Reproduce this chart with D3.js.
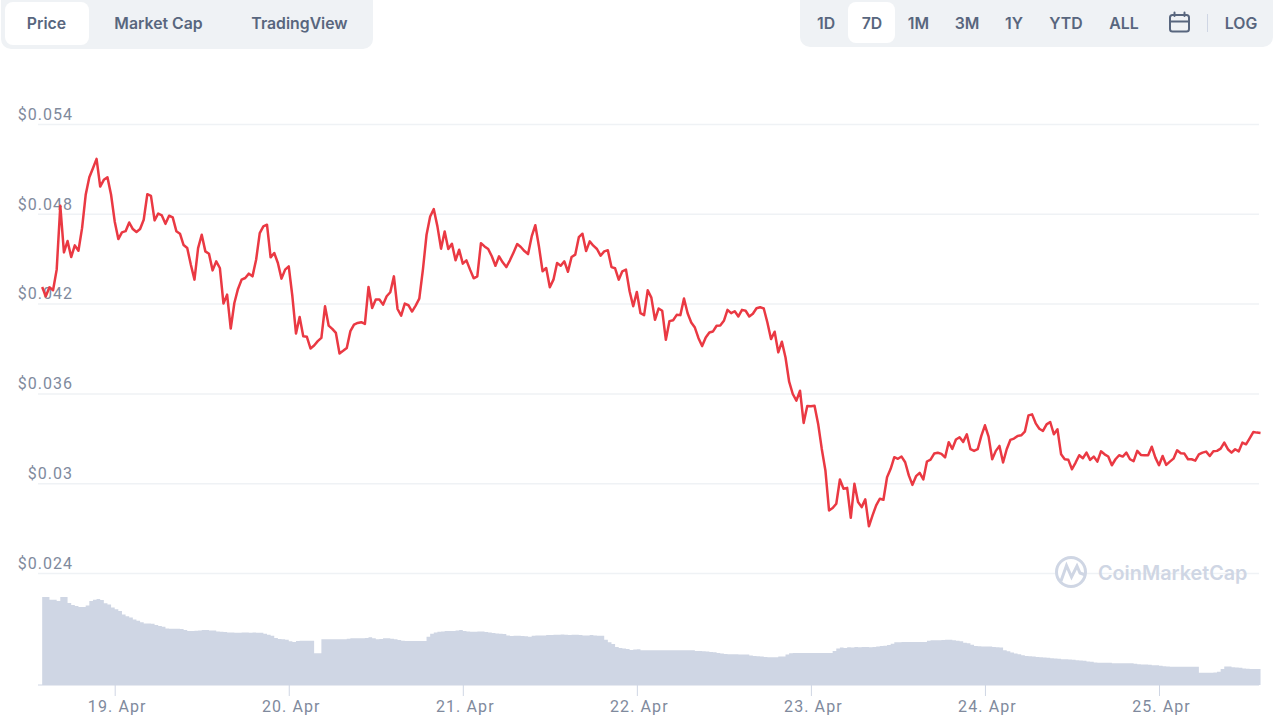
<!DOCTYPE html>
<html><head><meta charset="utf-8">
<script src="https://cdn.jsdelivr.net/npm/d3@7/dist/d3.min.js"></script>
<style>html,body{margin:0;padding:0;background:#fff;overflow:hidden}svg{display:block}</style>
</head><body><svg id="c" width="1280" height="720"></svg>
<script>
// price in 1e-5 USD, one value every 30 minutes from 18 Apr 14:00 UTC
const prices = [4311,4249,4309,4289,4427,4853,4542,4618,4511,4589,4553,4704,4927,5044,5104,5167,4982,5027,5044,4927,4749,4631,4676,4684,4742,4698,4678,4698,4760,4931,4920,4756,4802,4789,4733,4787,4776,4684,4667,4591,4571,4460,4360,4571,4660,4549,4533,4422,4482,4438,4200,4260,4033,4204,4298,4360,4371,4400,4382,4493,4671,4716,4727,4509,4538,4471,4367,4427,4449,4249,4000,4111,3982,3978,3900,3920,3949,
3971,4182,4053,4031,4004,3867,3885,3904,4016,4060,4071,4076,4064,4311,4171,4227,4227,4193,4249,4276,4382,4164,4120,4200,4189,4147,4187,4233,4427,4660,4782,4831,4716,4567,4682,4565,4600,4489,4560,4467,4489,4427,4369,4382,4604,4582,4565,4516,4453,4516,4476,4444,4489,4542,4598,4578,4551,4531,4649,4724,4582,4416,4438,4309,4360,4471,4453,4482,4413,4511,4527,4644,4667,4551,4616,4587,4565,4520,4549,4556,4444,4436,4360,4416,4427,4282,4182,4278,
4136,4123,4289,4240,4092,4167,4152,3958,4083,4089,4125,4123,4234,4136,4074,4040,3969,3916,3974,4007,4014,4052,4054,4085,4158,4136,4149,4114,4158,4152,4114,4132,4169,4176,4167,4074,3963,4012,3874,3945,3840,3678,3596,3552,3618,3403,3516,3514,3518,3396,3229,3085,2818,2834,2863,3025,2963,2969,2769,2996,2874,2840,2892,2712,2785,2852,2896,2889,3040,3096,3174,3163,3178,3140,3052,2989,3047,3069,3025,3145,3158,3198,3203,3196,3172,3274,3229,3292,3307,
3276,3327,3227,3216,3227,3316,3387,3311,3160,3216,3249,3138,3227,3289,3298,3316,3320,3344,3453,3460,3400,3364,3349,3393,3409,3327,3360,3193,3160,3156,3093,3138,3187,3167,3204,3156,3178,3144,3213,3193,3178,3120,3160,3187,3178,3204,3160,3147,3216,3189,3187,3187,3244,3171,3120,3182,3122,3144,3164,3220,3200,3198,3160,3160,3151,3193,3204,3211,3182,3213,3216,3231,3271,3227,3204,3227,3213,3271,3260,3300,3342,3338,3335];
// volume, relative units, same half-hour steps
const volumes = [266,266,258,258,254,266,266,248,242,239,236,236,240,254,258,260,257,247,243,234,229,224,213,208,204,198,194,190,186,186,185,181,178,176,171,170,170,170,169,166,163,163,164,165,166,166,165,165,162,161,160,159,159,158,158,159,159,158,159,158,158,155,152,149,142,139,138,137,132,130,133,134,134,134,134,96,96,138,138,138,138,138,138,138,140,141,141,141,141,142,144,141,138,139,141,141,140,138,136,134,133,133,133,133,133,133,146,155,159,161,162,163,163,163,165,166,163,162,161,161,162,162,160,159,157,156,155,154,150,148,149,149,148,147,146,149,150,150,150,151,151,152,152,153,152,151,152,152,151,150,150,151,150,149,149,137,129,124,115,112,110,109,106,107,108,
105,105,105,105,105,105,105,105,105,105,105,105,105,105,105,103,103,102,101,100,99,97,95,94,93,93,93,92,92,92,89,88,87,86,85,84,84,84,86,86,92,96,97,97,97,97,97,97,97,97,97,97,97,103,110,113,112,114,113,115,114,115,115,114,115,116,118,119,121,125,129,129,130,130,130,130,130,130,130,134,135,135,135,136,137,137,135,134,132,128,126,122,118,117,116,116,116,115,114,113,105,102,98,95,93,90,88,87,86,85,84,83,82,81,80,79,78,78,77,76,75,74,73,71,70,68,67,67,67,67,66,66,66,66,66,66,64,63,62,62,61,60,60,58,57,56,55,55,55,55,55,55,55,55,37,37,37,37,38,40,48,56,56,54,53,52,50,49,48,48,48,48];
const priceTicks = [0.054,0.048,0.042,0.036,0.03,0.024];
const dayTicks = ["2021-04-19","2021-04-20","2021-04-21","2021-04-22","2021-04-23","2021-04-24","2021-04-25"];
const leftTabs = ["Price","Market Cap","TradingView"];
const rangeTabs = ["1D","7D","1M","3M","1Y","YTD","ALL"];

const FONT = "Inter, 'Noto Sans', sans-serif";
const svg = d3.select("#c");
const start = Date.UTC(2021,3,18,14);
const timeAt = i => new Date(start + i*1800000);
const days = dayTicks.map(d => new Date(d+"T00:00:00Z"));
const x = d3.scaleUtc().domain([days[0],days[6]]).range([114.7,1159]);
const y = d3.scaleLinear().domain([0.024,0.054]).range([573,124]);
const yVol = d3.scaleLinear().domain([0,266]).range([685,597]);

// control bars
svg.append("rect").attr("x",1).attr("y",-12).attr("width",372).attr("height",61).attr("rx",10).attr("fill","#eff2f5");
svg.append("rect").attr("x",5).attr("y",2).attr("width",84).attr("height",43).attr("rx",8).attr("fill","#fff");
svg.append("rect").attr("x",800).attr("y",-12).attr("width",473).attr("height",59).attr("rx",10).attr("fill","#eff2f5");
svg.append("rect").attr("x",848).attr("y",2).attr("width",47).attr("height",41).attr("rx",8).attr("fill","#fff");
const leftX=[46.5,158.5,299.5];
svg.selectAll(".lt").data(leftTabs).join("text").attr("x",(d,i)=>leftX[i]).attr("y",23)
  .attr("dy","0.36em").attr("text-anchor","middle").attr("font-family",FONT).attr("font-weight",600).attr("font-size",15.8).attr("fill","#58667e").text(d=>d);
const rightX=[826,872,918.5,967,1014,1066,1124];
svg.selectAll(".rt").data(rangeTabs).join("text").attr("x",(d,i)=>rightX[i]).attr("y",23)
  .attr("dy","0.36em").attr("text-anchor","middle").attr("font-family",FONT).attr("font-weight",600).attr("font-size",15.8).attr("fill","#58667e").text(d=>d);
svg.append("text").attr("x",1241).attr("y",23).attr("dy","0.36em").attr("text-anchor","middle").attr("font-family",FONT).attr("font-weight",600).attr("font-size",15.8).attr("fill","#58667e").text("LOG");
svg.append("rect").attr("x",1207).attr("y",14).attr("width",1).attr("height",18).attr("fill","#cfd6e4");
const cal = svg.append("g").attr("fill","none").attr("stroke","#58667e").attr("stroke-width",2).attr("stroke-linecap","round");
cal.append("rect").attr("x",1170).attr("y",15).attr("width",19).attr("height",16.5).attr("rx",2.5);
cal.append("path").attr("d","M1170 21.5H1189M1174.5 12.5V16M1184.5 12.5V16");

// axes
const yAxis = d3.axisLeft(y).tickValues(priceTicks).tickSize(0).tickFormat(d=>"$"+d);
const gy = svg.append("g").attr("transform","translate(38,0)").call(yAxis);
gy.select(".domain").remove();
gy.selectAll(".tick line").attr("x1",0).attr("x2",1221).attr("stroke","#eff2f5").attr("stroke-width",1.5);
gy.selectAll(".tick text").attr("x",35).attr("y",-10.5).attr("dy","0.36em").attr("text-anchor","end")
  .attr("font-family","Roboto, sans-serif").attr("font-size",16).attr("letter-spacing","1").attr("fill","#808a9d");

// watermark
const wm = svg.append("g");
wm.append("circle").attr("cx",1071).attr("cy",572).attr("r",14.5).attr("fill","#fff").attr("stroke","#cfd6e4").attr("stroke-width",3);
wm.append("path").attr("d","M1061 581L1066.5 565.5L1071.5 577L1077 566L1080 573L1085.5 575").attr("fill","none").attr("stroke","#cfd6e4").attr("stroke-width",3);
wm.append("text").attr("x",1098).attr("y",573).attr("dy","0.36em").attr("font-family",FONT).attr("font-weight",600).attr("font-size",19.8).attr("fill","#cfd6e4").text("CoinMarketCap");

// volume
const area = d3.area().curve(d3.curveStepAfter).x((d,i)=>x(timeAt(i))).y0(yVol(0)).y1(d=>yVol(d));
svg.append("path").datum(volumes).attr("d",area).attr("fill","#cfd6e4");
svg.append("line").attr("x1",38).attr("x2",1259).attr("y1",685).attr("y2",685).attr("stroke","#cfd6e4").attr("stroke-width",1);

// x axis
const xAxis = d3.axisBottom(x).tickValues(days).tickSize(11).tickSizeOuter(0).tickFormat(d=>d3.utcFormat("%-d. %b")(d));
const gx = svg.append("g").attr("transform","translate(0,685)").call(xAxis);
gx.select(".domain").remove();
gx.selectAll(".tick line").attr("stroke","#cfd6e4");
gx.selectAll(".tick text").attr("x",2).attr("y",21.5).attr("dy","0.36em").attr("font-family","Roboto, sans-serif").attr("font-size",16).attr("letter-spacing","1.1").attr("fill","#808a9d");

// price line
const line = d3.line().x((d,i)=>x(timeAt(i))).y(d=>y(d/100000));
svg.append("path").datum(prices).attr("d",line).attr("fill","none").attr("stroke","#ea3943").attr("stroke-width",2.5).attr("stroke-linejoin","round");
</script></body></html>
